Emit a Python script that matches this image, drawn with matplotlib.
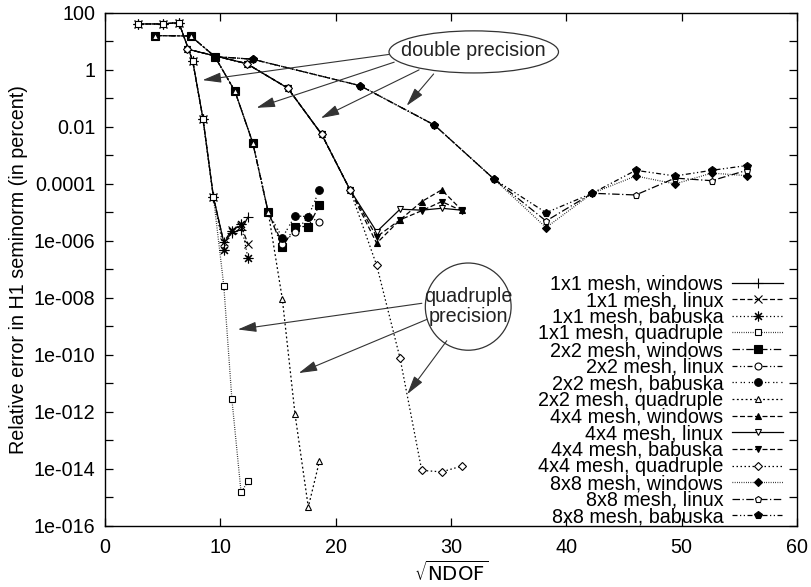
import numpy as np
import matplotlib
matplotlib.use("Agg")
import matplotlib.pyplot as plt
from matplotlib.patches import Ellipse
from matplotlib.ticker import FixedLocator, FuncFormatter, NullFormatter

plt.rcParams["font.family"] = ["Liberation Sans", "DejaVu Sans"]
plt.rcParams["font.size"] = 14.2

# ---------- data (x = sqrt(NDOF), y = relative error in percent) ----------
x_1x1 = [2.9, 5.0, 6.4, 7.6, 8.5, 9.4, 10.3, 11.0, 11.8, 12.4]
y_1x1_windows = [41, 41, 46, 2.1, 0.019, 3.5e-5, 8.9e-7, 1.9e-6, 2.5e-6, 6.8e-6]
y_1x1_linux = [41, 41, 46, 2.1, 0.019, 3.5e-5, 8.9e-7, 2.5e-6, 3.4e-6, 7.9e-7]
y_1x1_babuska = [41, 41, 46, 2.1, 0.019, 3.5e-5, 4.8e-7, 2.2e-6, 3.9e-6, 2.5e-7]
y_1x1_quad = [41, 41, 46, 2.1, 0.019, 3.5e-5, 2.7e-8, 2.9e-12, 1.5e-15, 3.7e-15]

x_2x2 = [4.34, 7.43, 9.52, 11.27, 12.81, 14.16, 15.38, 16.48, 17.63, 18.6]
y_2x2_windows = [16, 15.5, 2.95, 0.178, 2.8e-3, 1.0e-5, 6.0e-7, 3.2e-6, 3.2e-6, 1.8e-5]
y_2x2_linux = [16, 15.5, 2.95, 0.178, 2.8e-3, 1.0e-5, 7.9e-7, 2.1e-6, 6.8e-6, 4.8e-6]
y_2x2_babuska = [16, 15.5, 2.95, 0.178, 2.8e-3, 1.0e-5, 1.3e-6, 7.6e-6, 7.1e-6, 6.2e-5]
y_2x2_quad = [16, 15.5, 2.95, 0.178, 2.8e-3, 1.0e-5, 9.1e-9, 8.3e-13, 4.6e-16, 1.9e-14]

x_4x4 = [7.11, 12.29, 15.85, 18.79, 21.25, 23.56, 25.59, 27.47, 29.2, 30.94]
y_4x4_windows = [5.4, 1.66, 0.23, 5.5e-3, 6.2e-5, 8.3e-7, 5.5e-6, 2.4e-5, 6.2e-5, 1.2e-5]
y_4x4_linux = [5.4, 1.66, 0.23, 5.5e-3, 6.2e-5, 2.1e-6, 1.3e-5, 1.2e-5, 1.4e-5, 1.2e-5]
y_4x4_babuska = [5.4, 1.66, 0.23, 5.5e-3, 6.2e-5, 1.4e-6, 5.5e-6, 1.15e-5, 2.4e-5, 1.15e-5]
y_4x4_quad = [5.4, 1.66, 0.23, 5.5e-3, 6.2e-5, 1.4e-7, 7.6e-11, 8.9e-15, 7.9e-15, 1.26e-14]

x_8x8 = [9.52, 12.81, 22.12, 28.56, 33.76, 38.25, 42.26, 46.03, 49.44, 52.62, 55.65]
y_8x8_windows = [2.95, 2.37, 0.28, 0.0117, 1.45e-4, 2.95e-6, 4.7e-5, 1.9e-4, 1.0e-4, 2.4e-4, 1.95e-4]
y_8x8_linux = [2.95, 2.37, 0.28, 0.0117, 1.45e-4, 5.0e-6, 4.7e-5, 4.1e-5, 1.6e-4, 1.3e-4, 3.0e-4]
y_8x8_babuska = [2.95, 2.37, 0.28, 0.0117, 1.45e-4, 9.8e-6, 4.7e-5, 3.0e-4, 1.9e-4, 3.0e-4, 4.4e-4]

labels = [
    "1x1 mesh, windows", "1x1 mesh, linux", "1x1 mesh, babuska", "1x1 mesh, quadruple",
    "2x2 mesh, windows", "2x2 mesh, linux", "2x2 mesh, babuska", "2x2 mesh, quadruple",
    "4x4 mesh, windows", "4x4 mesh, linux", "4x4 mesh, babuska", "4x4 mesh, quadruple",
    "8x8 mesh, windows", "8x8 mesh, linux", "8x8 mesh, babuska",
]

series = [
    (x_1x1, y_1x1_windows), (x_1x1, y_1x1_linux), (x_1x1, y_1x1_babuska), (x_1x1, y_1x1_quad),
    (x_2x2, y_2x2_windows), (x_2x2, y_2x2_linux), (x_2x2, y_2x2_babuska), (x_2x2, y_2x2_quad),
    (x_4x4, y_4x4_windows), (x_4x4, y_4x4_linux), (x_4x4, y_4x4_babuska), (x_4x4, y_4x4_quad),
    (x_8x8, y_8x8_windows), (x_8x8, y_8x8_linux), (x_8x8, y_8x8_babuska),
]

# gnuplot-like monochrome styles: (dash pattern, marker, filled, size)
styles = [
    ("-", "+", True, 7),
    ((0, (4, 2)), "x", True, 6),
    ((0, (1, 2)), (8, 2, 0), True, 7),
    ((0, (0.6, 1.2)), "s", False, 5),
    ((0, (6, 2, 1, 2)), "s", True, 6),
    ((0, (4, 2, 1, 2, 1, 2)), "o", False, 5),
    ((0, (1, 1.5, 1, 3)), "o", True, 5.5),
    ((0, (1.5, 2)), "^", False, 5),
    ((0, (4, 2)), "^", True, 5),
    ("-", "v", False, 5),
    ((0, (4, 2)), "v", True, 5),
    ((0, (1.2, 2)), "D", False, 4),
    ((0, (0.6, 1.2)), "D", True, 4.5),
    ((0, (6, 2, 1, 2)), "p", False, 5),
    ((0, (4, 2, 1, 2, 1, 2)), "p", True, 5.5),
]

fig = plt.figure(figsize=(8.11, 5.87), dpi=100)
ax = fig.add_axes([0.1295, 0.104, 0.853, 0.874])

for (xs, ys), (ls, mk, filled, ms), lab in zip(series, styles, labels):
    ax.plot(xs, ys, linestyle=ls, color="black", linewidth=0.9,
            marker=mk, markersize=ms, markeredgewidth=0.8,
            markerfacecolor="black" if filled else "white",
            markeredgecolor="black", label=lab)

ax.set_yscale("log")
ax.set_xlim(0, 60)
ax.set_ylim(1e-16, 100)

ax.set_xticks(np.arange(0, 61, 10))
ax.yaxis.set_major_locator(FixedLocator([10.0 ** e for e in range(-16, 3, 2)]))
ax.yaxis.set_minor_locator(FixedLocator([10.0 ** e for e in range(-15, 2, 2)]))
ax.yaxis.set_minor_formatter(NullFormatter())


def gp_label(v, pos):
    e = int(round(np.log10(v)))
    if e >= 0:
        return str(int(round(v)))
    if e >= -4:
        return ("%." + str(-e) + "f") % v
    return "1e-%03d" % (-e)


ax.yaxis.set_major_formatter(FuncFormatter(gp_label))
ax.tick_params(which="both", direction="in", length=6, width=0.9,
               top=True, right=True)
ax.tick_params(axis="x", pad=9)
ax.tick_params(axis="y", pad=7)
for s in ax.spines.values():
    s.set_linewidth(1.0)

ax.set_ylabel("Relative error in H1 seminorm (in percent)", labelpad=4)
ax.set_xlabel(r"$\sqrt{\mathrm{NDOF}}$", labelpad=2)

# ---------- annotations ----------
gray = "#333333"
ax.add_patch(Ellipse((0.533, 0.924), 0.245, 0.082, transform=ax.transAxes,
                     fill=False, edgecolor=gray, linewidth=0.9))
ax.text(0.533, 0.926, "double precision", transform=ax.transAxes,
        ha="center", va="center", color="#222222")
double_arrows = [
    ((0.410, 0.919), (0.141, 0.869)),
    ((0.418, 0.904), (0.219, 0.815)),
    ((0.454, 0.889), (0.312, 0.795)),
    ((0.475, 0.881), (0.436, 0.819)),
]

ax.add_patch(Ellipse((0.525, 0.4275), 0.124, 0.170, transform=ax.transAxes,
                     fill=False, edgecolor=gray, linewidth=0.9))
ax.text(0.525, 0.4275, "quadruple\nprecision", transform=ax.transAxes,
        ha="center", va="center", color="#222222", linespacing=1.05)
quad_arrows = [
    ((0.458, 0.434), (0.192, 0.383)),
    ((0.466, 0.403), (0.280, 0.298)),
    ((0.494, 0.361), (0.437, 0.257)),
]

for start, end in double_arrows + quad_arrows:
    ax.annotate("", xy=end, xytext=start, xycoords="axes fraction",
                textcoords="axes fraction",
                arrowprops=dict(arrowstyle="-|>,head_length=0.8,head_width=0.22",
                                color=gray, lw=0.8, shrinkA=0, shrinkB=0))

ax.legend(loc="lower right", bbox_to_anchor=(0.995, -0.02), frameon=False,
          markerfirst=False, handlelength=2.6, handletextpad=0.45,
          labelspacing=-0.12, borderpad=0.0, fontsize=14.2)

fig.savefig("out.png", dpi=100)
